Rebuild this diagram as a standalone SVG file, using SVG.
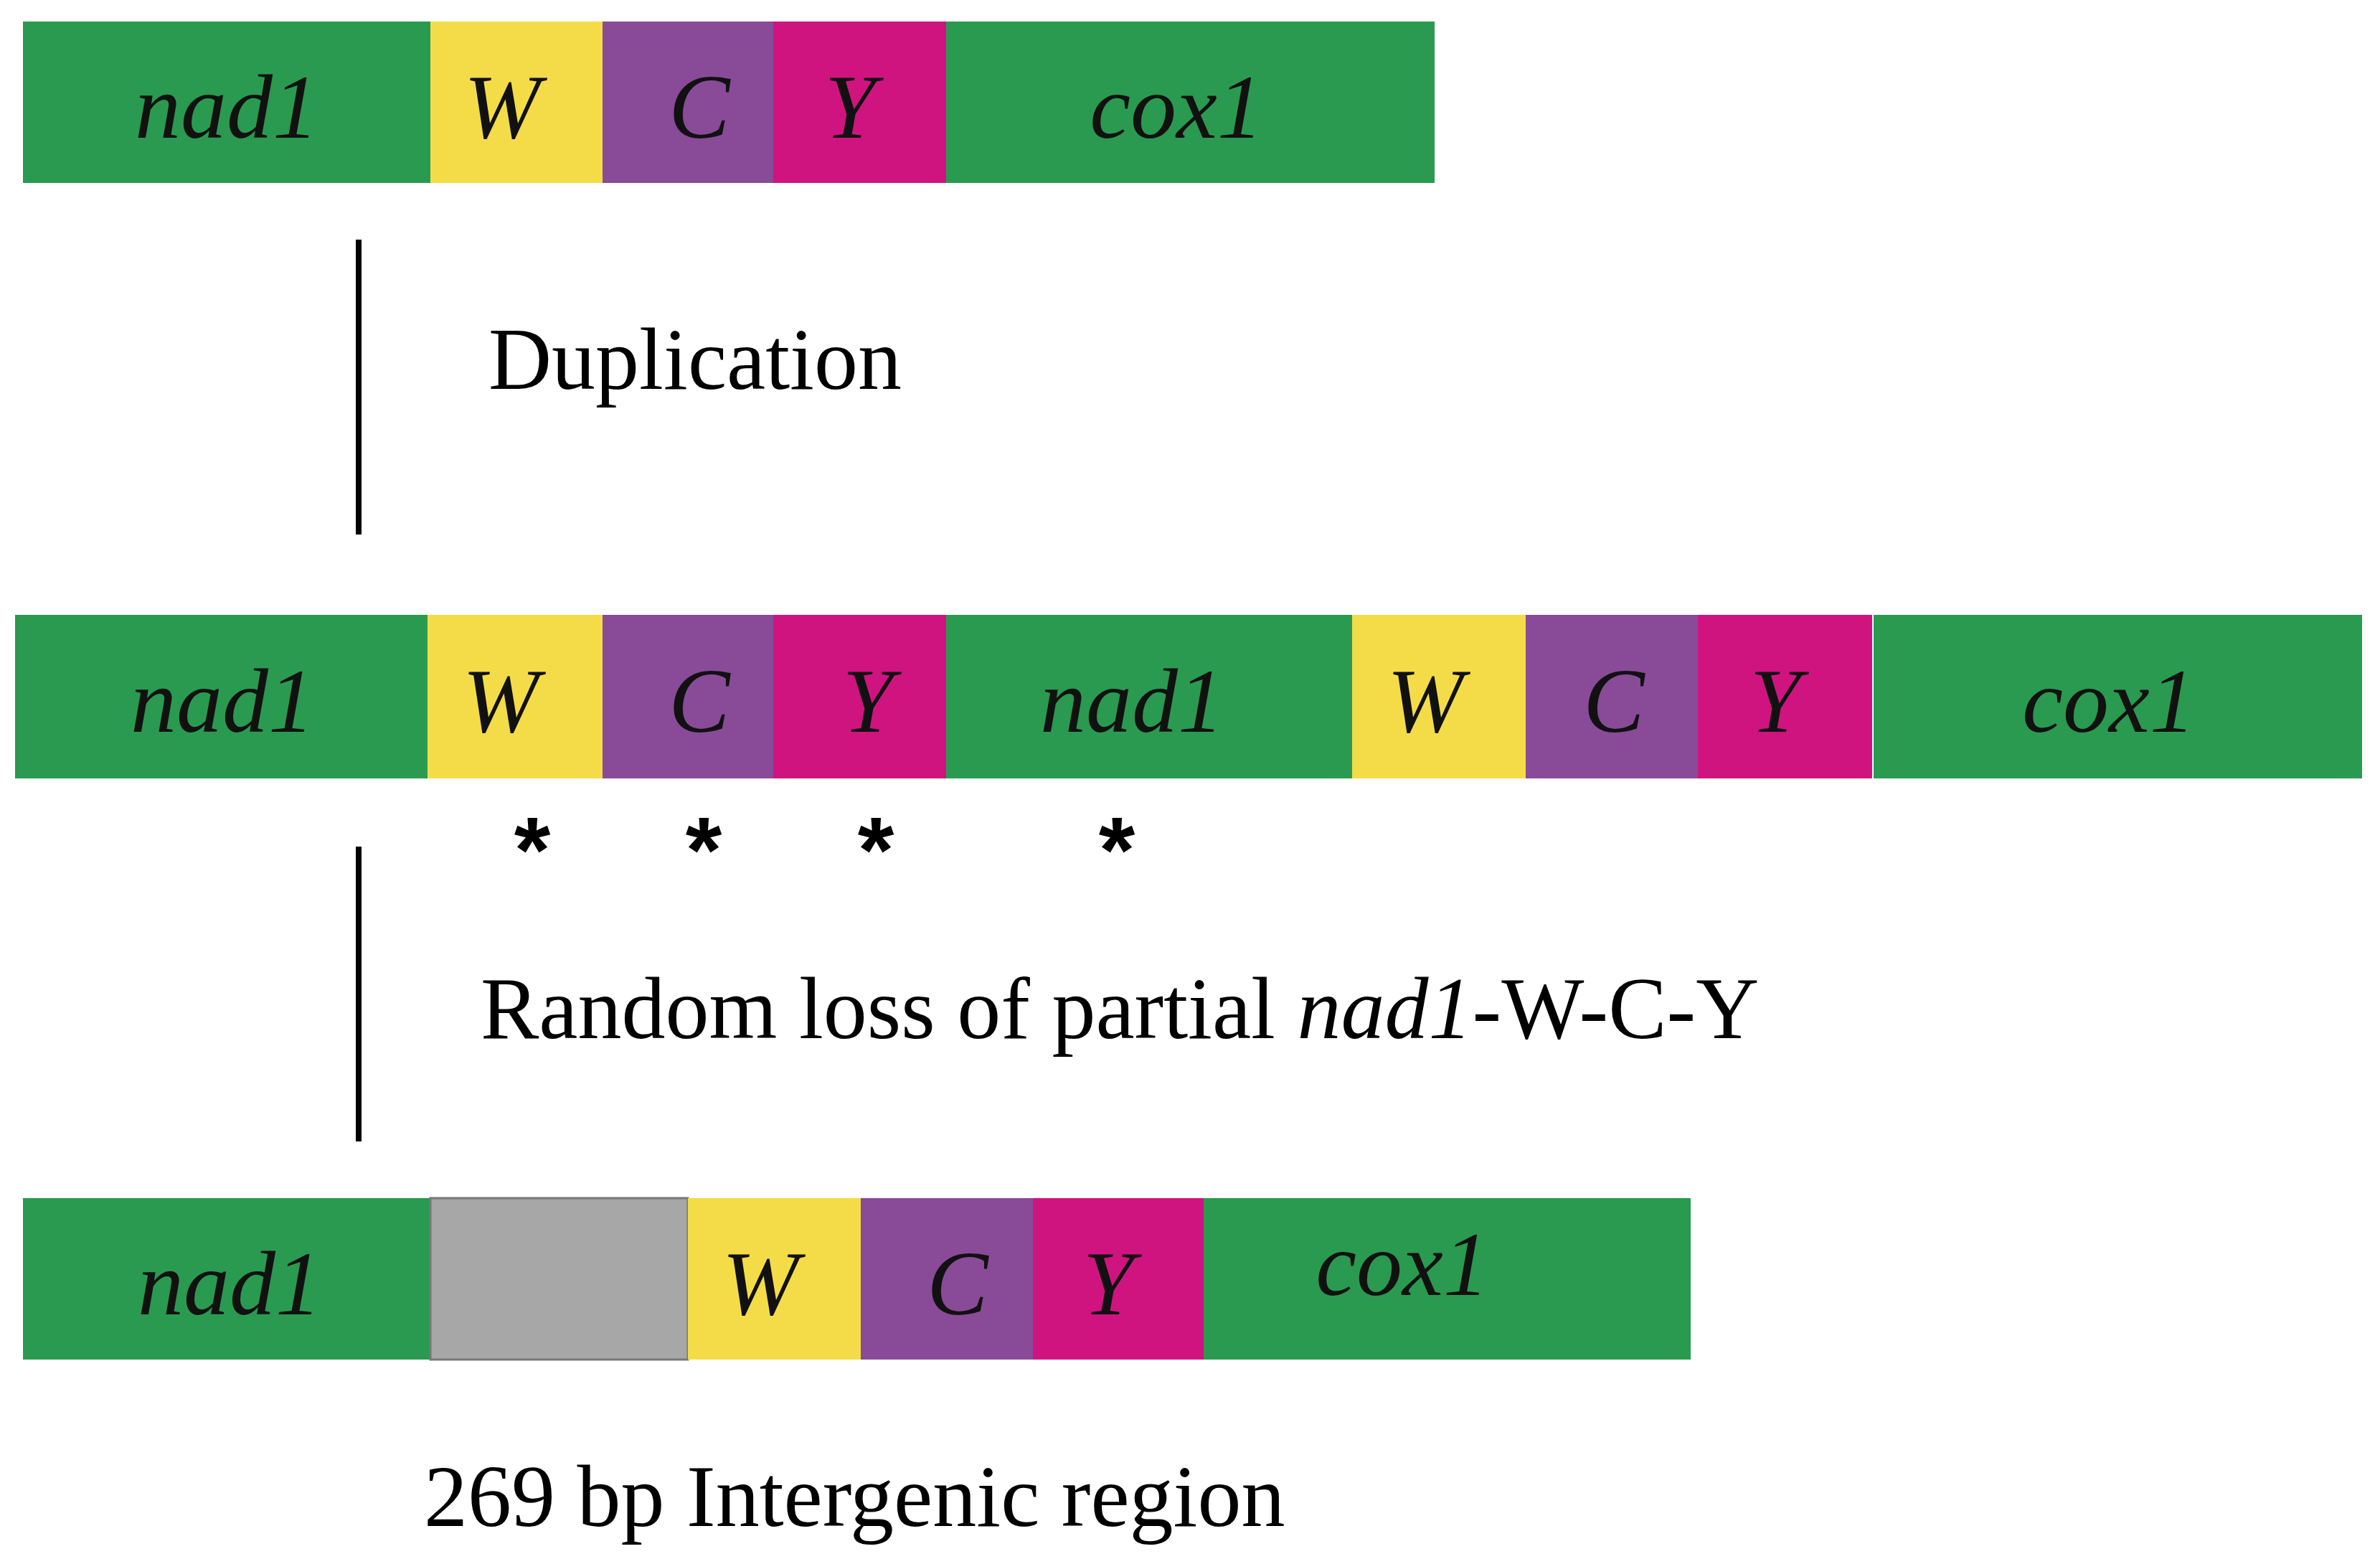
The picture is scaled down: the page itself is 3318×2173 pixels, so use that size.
<svg xmlns="http://www.w3.org/2000/svg" width="3318" height="2173" viewBox="0 0 3318 2173">
<style>
.g{fill:#2a9a50}.w{fill:#f4dc48}.c{fill:#894a98}.y{fill:#cf1480}.x{fill:#a6a7a6;stroke:#777;stroke-width:3}
.l{font-family:"Liberation Serif",serif;font-style:italic;font-size:128px;fill:#111;text-anchor:middle}
.t{font-family:"Liberation Serif",serif;font-size:122px;fill:#000}
.a{font-family:"Liberation Sans",sans-serif;font-size:130px;font-weight:bold;fill:#000;text-anchor:middle}
</style>
<defs><marker id="ah" viewBox="0 0 10 10" refX="9" refY="5" markerWidth="6" markerHeight="10" markerUnits="userSpaceOnUse" orient="auto"><path d="M0,0 L10,5 L0,10 L3,5 z"/></marker></defs>
<rect width="3318" height="2173" fill="#fff"/>
<g id="row1">
<rect class="g" x="32" y="30" width="568" height="225"/><text class="l" x="316" y="192">nad1</text>
<rect class="w" x="600" y="30" width="240" height="225"/><text class="l" x="700" y="192">W</text>
<rect class="c" x="840" y="30" width="238" height="225"/><text class="l" x="975" y="192">C</text>
<rect class="y" x="1078" y="30" width="241" height="225"/><text class="l" x="1185" y="192">Y</text>
<rect class="g" x="1319" y="30" width="681" height="225"/><text class="l" x="1640" y="192">cox1</text>
</g>
<g id="row2">
<rect class="g" x="21" y="857" width="575" height="228"/><text class="l" x="310" y="1020">nad1</text>
<rect class="w" x="596" y="857" width="244" height="228"/><text class="l" x="698" y="1020">W</text>
<rect class="c" x="840" y="857" width="238" height="228"/><text class="l" x="975" y="1020">C</text>
<rect class="y" x="1078" y="857" width="241" height="228"/><text class="l" x="1210" y="1020">Y</text>
<rect class="g" x="1319" y="857" width="566" height="228"/><text class="l" x="1578" y="1020">nad1</text>
<rect class="w" x="1885" y="857" width="242" height="228"/><text class="l" x="1987" y="1020">W</text>
<rect class="c" x="2127" y="857" width="240" height="228"/><text class="l" x="2250" y="1020">C</text>
<rect class="y" x="2367" y="857" width="243" height="228"/><text class="l" x="2475" y="1020">Y</text>
<rect class="g" x="2612" y="857" width="681" height="228"/><text class="l" x="2940" y="1020">cox1</text>
</g>
<g id="stars">
<text class="a" x="742" y="1230">*</text><text class="a" x="981" y="1230">*</text><text class="a" x="1221" y="1230">*</text><text class="a" x="1557" y="1230">*</text>
</g>
<g id="row3">
<rect class="g" x="32" y="1670" width="568" height="225"/><text class="l" x="320" y="1832">nad1</text>
<rect class="x" x="600" y="1670" width="359" height="225"/>
<rect class="w" x="959" y="1670" width="241" height="225"/><text class="l" x="1060" y="1832">W</text>
<rect class="c" x="1200" y="1670" width="240" height="225"/><text class="l" x="1335" y="1832">C</text>
<rect class="y" x="1440" y="1670" width="238" height="225"/><text class="l" x="1545" y="1832">Y</text>
<rect class="g" x="1678" y="1670" width="679" height="225"/><text class="l" x="1955" y="1805">cox1</text>
</g>
<g id="connectors" stroke="#000" stroke-width="8" fill="none">
<line x1="500" y1="334" x2="500" y2="745" marker-end="url(#ah)"/>
<line x1="500" y1="1180" x2="500" y2="1591" marker-end="url(#ah)"/>
</g>
<g id="labels">
<text class="t" x="681" y="542">Duplication</text>
<text class="t" x="670" y="1447">Random loss of partial <tspan font-style="italic">nad1</tspan>-W-C-Y</text>
<text class="t" x="591" y="2127" font-size="102">269 bp Intergenic region</text>
</g>
</svg>
